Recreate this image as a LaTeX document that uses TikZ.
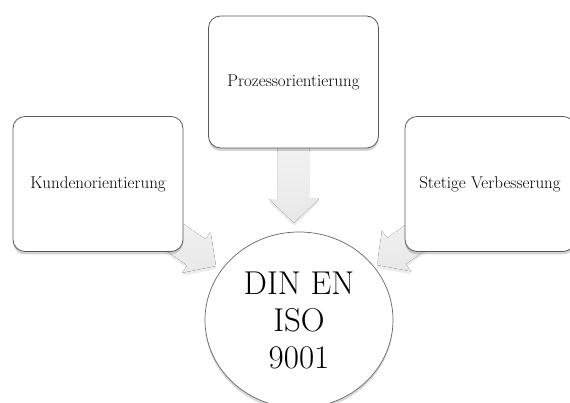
\documentclass[tikz,border=0pt]{standalone}
\usepackage{fontspec}
\usepackage{tikz}
\usetikzlibrary{shapes.geometric,shadows,calc,backgrounds}
\tikzset{
  pillar/.style={draw=black!65, line width=0.8pt, fill=white, rounded corners=12pt,
    minimum width=170pt, minimum height=135pt, align=center,
    font=\fontsize{17}{20}\selectfont,
    drop shadow={shadow xshift=0pt, shadow yshift=-3pt, opacity=0.35}},
  norm/.style={ellipse, draw=black!60, line width=0.7pt, fill=white, inner sep=0pt,
    minimum width=188pt, minimum height=176pt, align=center,
    font=\fontsize{33}{37}\selectfont,
    drop shadow={shadow xshift=0pt, shadow yshift=-3pt, opacity=0.3}},
  fatarrow/.style={top color=gray!4, bottom color=gray!18,
    drop shadow={shadow xshift=0pt, shadow yshift=-3pt, opacity=0.15}}
}
% block arrow from #1 to the tip #2
\newcommand{\blockarrow}[2]{%
  \coordinate (hb) at ($(#2)!24pt!(#1)$);
  \fill[fatarrow] ($(#1)!16pt!90:(#2)$) -- ($(hb)!16pt!90:(#2)$) -- ($(hb)!25pt!90:(#2)$)
    -- (#2) -- ($(hb)!25pt!-90:(#2)$) -- ($(hb)!16pt!-90:(#2)$) -- ($(#1)!16pt!-90:(#2)$) -- cycle;
}

\begin{document}
\begin{tikzpicture}[x=1pt,y=-1pt]
\useasboundingbox (0,0) rectangle (570,403);

% Pillars
\node[pillar] (kunde) at (98,184) {Kundenorientierung};
\node[pillar, minimum height=132pt] (prozess) at (293.5,82) {Prozessorientierung};
\node[pillar] (verbess) at (490,184) {Stetige Verbesserung};

% Standard
\node[norm] (iso) at (299,320) {DIN EN\\ISO\\9001};

% Arrows
\coordinate (tipK) at (216,266);
\coordinate (tipP) at (294,223);
\coordinate (tipV) at (377,265);
\begin{scope}[on background layer]
\blockarrow{kunde}{tipK}
\blockarrow{prozess}{tipP}
\blockarrow{verbess}{tipV}
\end{scope}

\end{tikzpicture}
\end{document}
